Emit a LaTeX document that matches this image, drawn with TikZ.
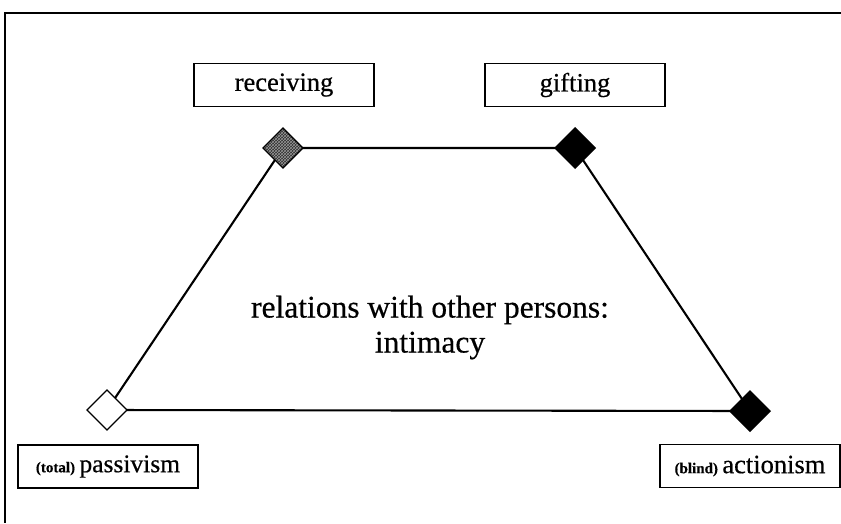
\documentclass[tikz,border=0pt]{standalone}
\usepackage{fontspec}
\setmainfont{Liberation Serif}
\newfontfamily\heavyserif{Liberation Serif}[FakeBold=0.5]
\usetikzlibrary{patterns}
\begin{document}
\begin{tikzpicture}[x=1pt,y=-1pt,
  labelbox/.style={draw=black, line width=1.5pt, minimum width=180pt, minimum height=43pt, inner sep=0pt, fill=white,
     font=\heavyserif\fontsize{26.5}{30}\selectfont},
  edge/.style={line width=2.1pt}]
\useasboundingbox (0,0) rectangle (841,523);
\fill[white] (0,0) rectangle (841,523);
% frame
\coordinate (ftl) at (5,13);
\coordinate (ftr) at (841,13);
\coordinate (fbl) at (5,523);
\draw[line width=2pt] (ftr) -- (ftl) -- (fbl);
% corner points
\coordinate (r) at (283,148);
\coordinate (g) at (575,148);
\coordinate (p) at (107,410);
\coordinate (a) at (750,411);
% edges
\draw[edge] (r) -- (g) -- (a) -- (p) -- cycle;
% diamond glyphs
\fill[gray!35!black] (283,128) -- (303,148) -- (283,168) -- (263,148) -- cycle;
\fill[pattern=crosshatch, pattern color=gray!80] (283,128) -- (303,148) -- (283,168) -- (263,148) -- cycle;
\draw[black, line width=1.2pt] (283,128) -- (303,148) -- (283,168) -- (263,148) -- cycle;
\fill[black] (575,127) -- (596,148) -- (575,169) -- (554,148) -- cycle;
\filldraw[fill=white, draw=black, line width=1.2pt] (107,390) -- (127,410) -- (107,430) -- (87,410) -- cycle;
\fill[black] (750,390) -- (771,411) -- (750,432) -- (729,411) -- cycle;
% labels
\node[labelbox] (rec) at (284,85) {receiving};
\node[labelbox] (gif) at (575,85) {gifting};
\node[labelbox] (pas) at (108,466.5) {{\fontsize{15}{15}\selectfont\bfseries (total)}\,{\fontsize{25.5}{30}\selectfont passivism}};
\node[labelbox] (act) at (750,466) {{\fontsize{15}{15}\selectfont\bfseries (blind)}\,{\fontsize{26.5}{30}\selectfont actionism}};
% centre text
\node[align=center, inner sep=0pt, font=\heavyserif\fontsize{31.5}{35}\selectfont] (mid) at (430,327.5)
  {relations with other persons:\\intimacy};
\end{tikzpicture}
\end{document}
